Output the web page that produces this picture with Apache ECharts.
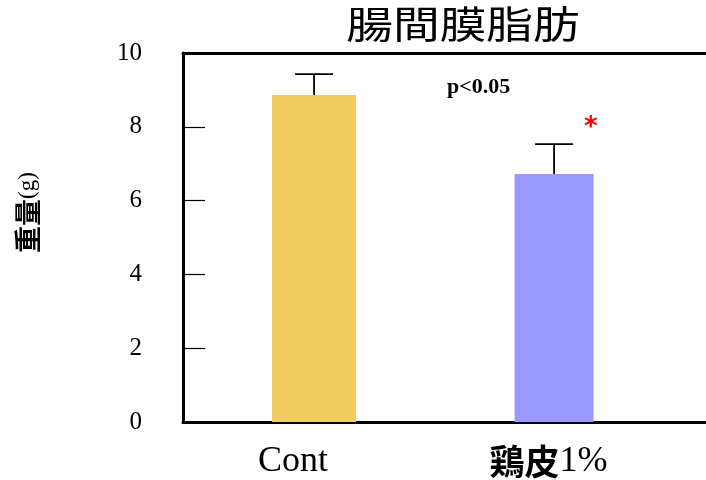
<!DOCTYPE html>
<html>
<head>
<meta charset="utf-8">
<script src="https://cdn.jsdelivr.net/npm/echarts@6/dist/echarts.min.js"></script>
<style>
  html, body { margin: 0; padding: 0; background: #fff; }
  #chart { width: 706px; height: 480px; }
</style>
</head>
<body>
<div id="chart"></div>
<script>
// Mesenteric fat weight by group: mean with one-sided SD error bar
const categories = ['Cont', '鶏皮1%'];
const means = [8.86, 6.72];
const sds = [0.57, 0.81];
const yTicks = [0, 2, 4, 6, 8, 10];
const titleText = '腸間膜脂肪';
const yNameText = ['重量', '(g)'];
const pText = 'p<0.05';
const sigMark = '*';

// styling
const barColors = ['#F2CC60', '#9999FF'];
const barWidths = [84, 79];
const serif = '"Liberation Serif", "Times New Roman", serif';
const cjk = '"Noto Sans CJK JP", "Noto Sans CJK SC", sans-serif';

const chart = echarts.init(document.getElementById('chart'), null, { renderer: 'canvas' });

// group i sits at x = i on a value axis so the two bars keep their own spacing
const xRange = { min: -0.546, max: 1.633 };

const xAxisBase = {
  type: 'value',
  min: xRange.min,
  max: xRange.max,
  splitLine: { show: false },
  axisTick: { show: false },
  axisLine: { show: true, onZero: false, lineStyle: { color: '#000', width: 3 } }
};

function catLabel(v) {
  const i = Math.round(v);
  const name = categories[i];
  if (i === 0) return '{s|' + name + '}{g0|}';
  const m = name.match(/^([^0-9]+)(.*)$/);
  return '{b|' + m[1] + '}{s|' + m[2] + '}{g1|}';
}

const option = {
  backgroundColor: '#fff',
  animation: false,
  grid: { left: 183, right: 0, top: 53, bottom: 57, containLabel: false },
  xAxis: [
    Object.assign({}, xAxisBase, {
      position: 'bottom',
      axisLabel: {
        show: true,
        customValues: categories.map((c, i) => i),
        margin: 22,
        formatter: catLabel,
        rich: {
          s: { fontFamily: serif, fontSize: 36, color: '#000' },
          b: { fontFamily: cjk, fontWeight: 'bold', fontSize: 35, color: '#000' },
          g0: { width: 42 },
          g1: { width: 11 }
        }
      }
    }),
    Object.assign({}, xAxisBase, {
      position: 'top',
      axisLabel: { show: false }
    })
  ],
  yAxis: {
    type: 'value',
    min: yTicks[0],
    max: yTicks[yTicks.length - 1],
    interval: 2,
    position: 'left',
    splitLine: { show: false },
    axisLine: { show: true, onZero: false, lineStyle: { color: '#000', width: 3 } },
    axisTick: { show: true, inside: true, length: 22, lineStyle: { color: '#000', width: 1.2 } },
    axisLabel: {
      margin: 41,
      fontFamily: serif,
      fontSize: 25,
      color: '#000',
      padding: [0, 0, 8, 0]
    },
    name: '{b|' + yNameText[0] + '}{s|' + yNameText[1] + '}',
    nameLocation: 'middle',
    nameRotate: 90,
    nameGap: 142,
    nameTextStyle: {
      padding: [0, 0, 0, 50],
      rich: {
        b: { fontFamily: cjk, fontWeight: 'bold', fontSize: 27, color: '#000' },
        s: { fontFamily: serif, fontSize: 23, color: '#000' }
      }
    }
  },
  series: categories.map((c, i) => ({
    type: 'bar',
    name: c,
    xAxisIndex: i,
    yAxisIndex: 0,
    barWidth: barWidths[i],
    itemStyle: { color: barColors[i] },
    data: [[i, means[i]]]
  })).concat([{
    type: 'custom',
    name: 'SD',
    xAxisIndex: 0,
    yAxisIndex: 0,
    z: 3,
    data: categories.map((c, i) => [i, means[i], means[i] + sds[i]]),
    renderItem: function (params, api) {
      const base = api.coord([api.value(0), api.value(1)]);
      const top = api.coord([api.value(0), api.value(2)]);
      const half = 19;
      const st = { stroke: '#000', lineWidth: 1.8 };
      return {
        type: 'group',
        children: [
          { type: 'line', shape: { x1: base[0], y1: base[1], x2: top[0], y2: top[1] }, style: st },
          { type: 'line', shape: { x1: top[0] - half, y1: top[1], x2: top[0] + half, y2: top[1] }, style: st }
        ]
      };
    }
  }]),
  graphic: [
    {
      // chart title, set in a wide gothic face
      type: 'text',
      x: 463,
      y: 24,
      scaleX: 1.23,
      style: {
        text: titleText,
        font: '38px ' + cjk,
        fill: '#000',
        align: 'center',
        verticalAlign: 'middle'
      }
    },
    {
      type: 'text',
      left: 447,
      top: 76,
      style: { text: pText, font: 'bold 22px ' + serif, fill: '#000' }
    },
    {
      type: 'text',
      left: 584,
      top: 115,
      style: { text: sigMark, font: 'bold 26px "DejaVu Sans", sans-serif', fill: '#FF0000' }
    }
  ]
};

chart.setOption(option);
</script>
</body>
</html>
